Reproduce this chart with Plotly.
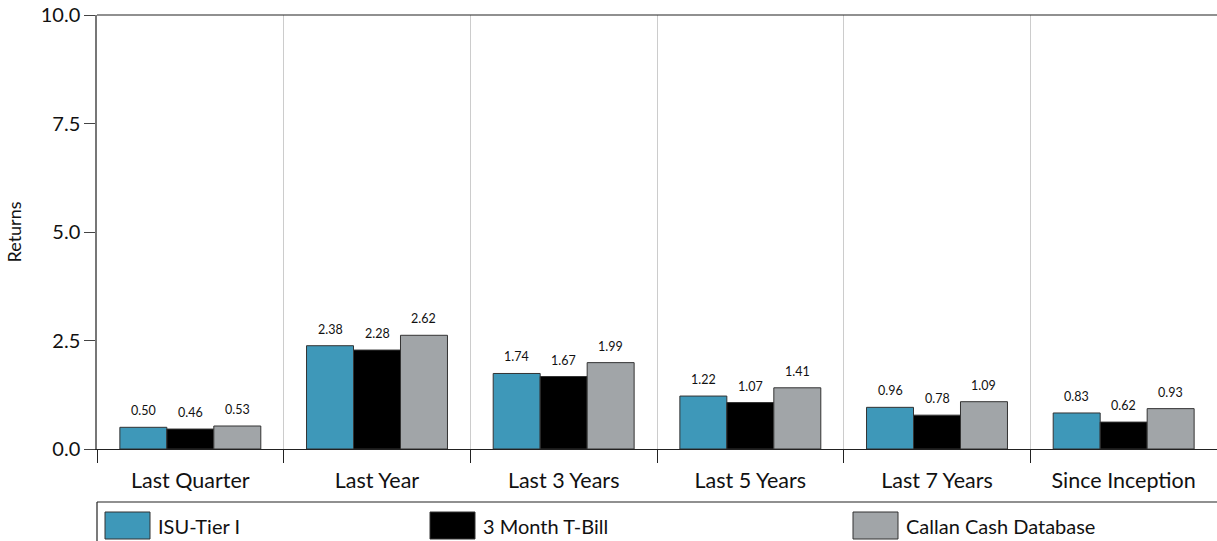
import plotly.graph_objects as go

categories = ["Last Quarter", "Last Year", "Last 3 Years", "Last 5 Years", "Last 7 Years", "Since Inception"]
isu_tier1 = [0.50, 2.38, 1.74, 1.22, 0.96, 0.83]
tbill_3m = [0.46, 2.28, 1.67, 1.07, 0.78, 0.62]
callan_cash = [0.53, 2.62, 1.99, 1.41, 1.09, 0.93]
series_names = ["ISU-Tier I", "3 Month T-Bill", "Callan Cash Database"]
y_ticks = [0.0, 2.5, 5.0, 7.5, 10.0]

colors = ["#3E98B9", "#000000", "#A1A5A8"]
FONT = "Lato, 'Open Sans', sans-serif"

W, H = 1217, 541
ML, MR, MT, MB = 97, 0, 15, 92
BARGAP = 0.245

fig = go.Figure()
all_series = [isu_tier1, tbill_3m, callan_cash]
for name, vals, col in zip(series_names, all_series, colors):
    fig.add_trace(go.Bar(
        x=categories, y=vals, name=name,
        marker=dict(color=col, line=dict(color="#333333", width=1)),
        cliponaxis=False,
    ))

# value labels above bars
cat_px = (W - ML - MR) / len(categories)
bar_px = cat_px * (1 - BARGAP) / len(all_series)
for i, vals in enumerate(all_series):
    for c, v in zip(categories, vals):
        fig.add_annotation(x=c, y=v, xref="x", yref="y", text=f"{v:.2f}",
                           showarrow=False, yanchor="bottom",
                           xshift=(i - 1) * bar_px, yshift=7,
                           font=dict(size=12.5, family=FONT, color="#111111"))

fig.update_layout(
    width=W, height=H,
    margin=dict(l=ML, r=MR, t=MT, b=MB),
    barmode="group", bargap=BARGAP, bargroupgap=0,
    plot_bgcolor="white", paper_bgcolor="white",
    showlegend=False,
    font=dict(family=FONT, color="#111111"),
    xaxis=dict(
        automargin=False,
        tickson="boundaries", ticks="outside", ticklen=13, tickcolor="#222222",
        ticklabelstandoff=12,
        showgrid=True, gridcolor="#CCCCCC", gridwidth=1,
        showline=True, linecolor="#222222", linewidth=1,
        tickfont=dict(size=21.5, family=FONT),
    ),
    yaxis=dict(
        automargin=False,
        range=[0, 10], tickvals=y_ticks, ticktext=[f"{v:.1f}" for v in y_ticks],
        ticks="outside", ticklen=11, tickcolor="#444444",
        showgrid=False, zeroline=False,
        showline=True, linecolor="#777777", linewidth=1.5,
        tickfont=dict(size=20, family=FONT),
        title=dict(text="Returns", font=dict(size=18, family=FONT), standoff=14),
    ),
)

# top border line
fig.add_shape(type="line", xref="paper", yref="paper", x0=0, x1=1, y0=1, y1=1,
              line=dict(color="#222222", width=1.2))

# legend box (manual, large swatches)
def px_x(p):
    return (p - ML) / (W - ML - MR)

def px_y(p):
    return (H - MB - p) / (H - MT - MB)

fig.add_shape(type="line", xref="paper", yref="paper", x0=0, x1=1.01, y0=px_y(502), y1=px_y(502),
              line=dict(color="#222222", width=1.2))
fig.add_shape(type="line", xref="paper", yref="paper", x0=0, x1=0, y0=px_y(502), y1=px_y(545),
              line=dict(color="#222222", width=1.2))

swatch_x = [105, 430, 853]
for name, col, sx in zip(series_names, colors, swatch_x):
    fig.add_shape(type="rect", xref="paper", yref="paper",
                  x0=px_x(sx), x1=px_x(sx + 45), y0=px_y(512), y1=px_y(539),
                  fillcolor=col, line=dict(color="#333333", width=1))
    fig.add_annotation(xref="paper", yref="paper", x=px_x(sx + 51), y=px_y(526),
                       text=name, showarrow=False, xanchor="left", yanchor="middle",
                       font=dict(size=20, family=FONT, color="#111111"))

fig.write_html("out.html", config={"displayModeBar": False},
               post_script="document.body.style.margin='0';document.body.style.overflow='hidden';")
